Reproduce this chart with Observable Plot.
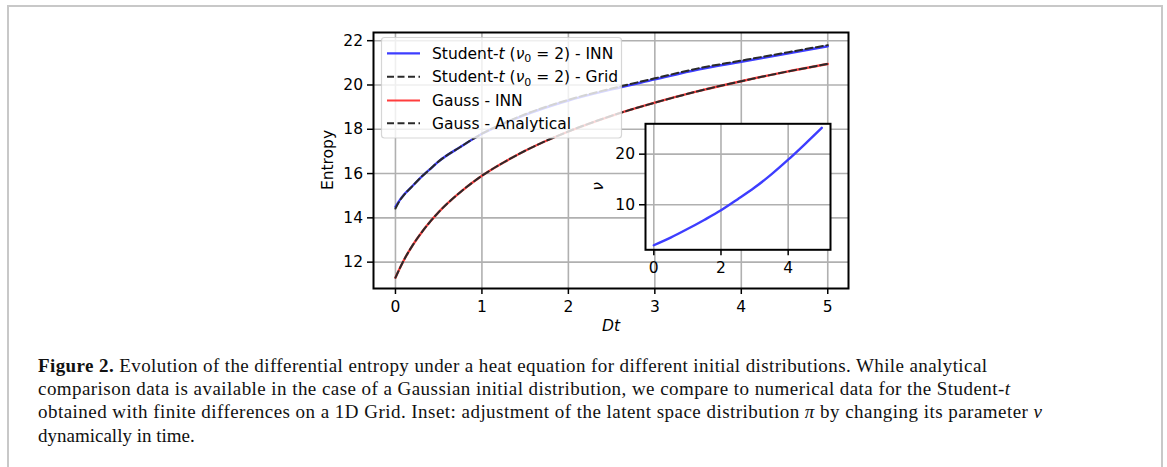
<!DOCTYPE html>
<html>
<head>
<meta charset="utf-8">
<script src="https://cdn.jsdelivr.net/npm/d3@7"></script>
<script src="https://cdn.jsdelivr.net/npm/@observablehq/plot@0.6"></script>
<style>
  html, body { margin: 0; padding: 0; background: #fff; }
  #wrap { position: relative; width: 1167px; height: 467px; overflow: hidden; background: #fff; }
  #border { position: absolute; left: 7px; top: 5px; width: 1152px; height: 480px; border: 2px solid #c8c8c8; border-bottom: none; }
  .abs { position: absolute; left: 0; top: 0; }
</style>
</head>
<body>
<div id="wrap"><div id="border"></div></div>
<script>
// ---- data ----
const tValues = [0, 0.05, 0.1, 0.2, 0.3, 0.4, 0.5, 0.75, 1, 1.25, 1.5, 2, 2.5, 3, 3.5, 4, 4.5, 5];
const studentINN  = [14.5, 14.8, 15.05, 15.45, 15.85, 16.2, 16.55, 17.2, 17.8, 18.25, 18.65, 19.3, 19.8, 20.25, 20.7, 21.05, 21.4, 21.75];
const studentGrid = [14.42, 14.78, 15.04, 15.45, 15.85, 16.2, 16.55, 17.2, 17.8, 18.27, 18.68, 19.33, 19.84, 20.3, 20.75, 21.1, 21.45, 21.8];
const gaussINN    = [11.3, 11.72, 12.11, 12.77, 13.33, 13.82, 14.26, 15.16, 15.9, 16.5, 17.03, 17.9, 18.61, 19.2, 19.72, 20.17, 20.58, 20.95];
const gaussAnalytical = [11.3, 11.72, 12.11, 12.77, 13.33, 13.82, 14.26, 15.16, 15.9, 16.5, 17.03, 17.9, 18.61, 19.2, 19.72, 20.17, 20.58, 20.95];

const nuT      = [0, 0.5, 1, 1.5, 2, 2.5, 3, 3.5, 4, 4.5, 5];
const nuValues = [2, 3.5, 5.2, 7, 8.9, 11.1, 13.4, 16, 18.9, 22, 25.2];

const xTicks = [0, 1, 2, 3, 4, 5];
const yTicks = [12, 14, 16, 18, 20, 22];
const insetXTicks = [0, 2, 4];
const insetYTicks = [10, 20];

const seriesLabels = ["Student-t (ν0 = 2) - INN", "Student-t (ν0 = 2) - Grid", "Gauss - INN", "Gauss - Analytical"];

// ---- styles ----
const FS = 15.5;
const BLUE = "#3d3dff", RED = "#ff3d3d", DASH = "#2a2a2a", GRID = "#b0b0b0";
const rows = (ys) => tValues.map((t, i) => ({t, v: ys[i]}));

const wrap = document.getElementById("wrap");
const tickOpts = {tickSize: 6, strokeWidth: 1.5, label: null, tickFormat: () => ""};
const labX = (ticks) => Plot.text(ticks, {x: d => d, frameAnchor: "bottom", dy: 18.5, lineAnchor: "middle", text: d => String(d), fontSize: FS, fill: "#000"});
const labY = (ticks) => Plot.text(ticks, {y: d => d, frameAnchor: "left", dx: -10.5, textAnchor: "end", text: d => String(d), fontSize: FS, fill: "#000"});

// ---- main chart ----
const main = Plot.plot({
  width: 1167, height: 340,
  marginLeft: 373, marginRight: 319, marginTop: 32, marginBottom: 52,
  style: {fontFamily: "DejaVu Sans", fontSize: FS + "px", color: "#000", background: "transparent", overflow: "visible"},
  x: {domain: [-0.254, 5.24]},
  y: {domain: [10.81, 22.37]},
  marks: [
    Plot.ruleX(xTicks, {stroke: GRID, strokeWidth: 1.6}),
    Plot.ruleY(yTicks, {stroke: GRID, strokeWidth: 1.6}),
    Plot.line(rows(studentINN), {x: "t", y: "v", stroke: BLUE, strokeWidth: 2.4, curve: "monotone-x"}),
    Plot.line(rows(studentGrid), {x: "t", y: "v", stroke: DASH, strokeWidth: 2, strokeDasharray: "7,3.5", curve: "monotone-x"}),
    Plot.line(rows(gaussINN), {x: "t", y: "v", stroke: RED, strokeWidth: 2.4, curve: "monotone-x"}),
    Plot.line(rows(gaussAnalytical), {x: "t", y: "v", stroke: DASH, strokeWidth: 2, strokeDasharray: "7,3.5", curve: "monotone-x"}),
    Plot.frame({stroke: "#000", strokeWidth: 2}),
    Plot.axisX(xTicks, tickOpts),
    Plot.axisY(yTicks, tickOpts),
    labX(xTicks),
    labY(yTicks)
  ]
});
main.classList.add("abs");
wrap.appendChild(main);

// ---- overlay: legend, axis labels, caption ----
const NS = "http://www.w3.org/2000/svg";
const ov = document.createElementNS(NS, "svg");
ov.setAttribute("width", 1167); ov.setAttribute("height", 467);
ov.setAttribute("class", "abs");
ov.style.pointerEvents = "none";
function el(tag, attrs, parent) {
  const e = document.createElementNS(NS, tag);
  for (const k in attrs) e.setAttribute(k, attrs[k]);
  (parent || ov).appendChild(e);
  return e;
}
function tspan(parent, text, attrs = {}) {
  const s = el("tspan", attrs, parent); s.textContent = text; return s;
}

// legend box
el("rect", {x: 381.5, y: 37.5, width: 240, height: 100.5, rx: 3, fill: "#fff", "fill-opacity": 0.8, stroke: "#cccccc", "stroke-opacity": 0.8, "stroke-width": 1.2});
const legendRows = [
  {y: 53.3, color: BLUE, dash: null},
  {y: 76.7, color: DASH, dash: "7,3.5"},
  {y: 100.5, color: RED, dash: null},
  {y: 123.3, color: DASH, dash: "7,3.5"}
];
legendRows.forEach((r, i) => {
  const a = {x1: 387, x2: 420, y1: r.y, y2: r.y, stroke: r.color, "stroke-width": r.dash ? 2 : 2.2};
  if (r.dash) a["stroke-dasharray"] = r.dash;
  el("line", a);
  const tx = el("text", {x: 432, y: r.y + 5.5, "font-family": "DejaVu Sans", "font-size": FS, fill: "#000"});
  const lab = seriesLabels[i];
  if (lab.startsWith("Student")) {
    tspan(tx, "Student-");
    tspan(tx, "t", {"font-style": "italic"});
    tspan(tx, " (");
    tspan(tx, "ν", {"font-style": "italic"});
    tspan(tx, "0", {"font-size": 11, dy: 3.5});
    tspan(tx, " = 2)" + lab.slice(lab.indexOf(")") + 1), {dy: -3.5});
  } else {
    tx.textContent = lab;
  }
});

// axis labels
const yl = el("text", {transform: "translate(333,160) rotate(-90)", "text-anchor": "middle", "font-family": "DejaVu Sans", "font-size": FS, fill: "#000"});
yl.textContent = "Entropy";
const xl = el("text", {x: 611, y: 331, "text-anchor": "middle", "font-family": "DejaVu Sans", "font-size": FS, "font-style": "italic", fill: "#000"});
xl.textContent = "Dt";

// caption
const capFont = {"font-family": "Liberation Serif", "font-size": 19, fill: "#111"};
const c1 = el("text", Object.assign({x: 38, y: 371.5, textLength: 949, lengthAdjust: "spacing"}, capFont));
tspan(c1, "Figure 2.", {"font-weight": "bold"});
tspan(c1, " Evolution of the differential entropy under a heat equation for different initial distributions. While analytical");
const c2 = el("text", Object.assign({x: 38, y: 395, textLength: 972, lengthAdjust: "spacing"}, capFont));
tspan(c2, "comparison data is available in the case of a Gaussian initial distribution, we compare to numerical data for the Student-");
tspan(c2, "t", {"font-style": "italic"});
const c3 = el("text", Object.assign({x: 38, y: 418.3, textLength: 1004, lengthAdjust: "spacing"}, capFont));
tspan(c3, "obtained with finite differences on a 1D Grid. Inset: adjustment of the latent space distribution ");
tspan(c3, "π", {"font-style": "italic"});
tspan(c3, " by changing its parameter ");
tspan(c3, "ν", {"font-style": "italic"});
const c4 = el("text", Object.assign({x: 38, y: 441.7}, capFont));
c4.textContent = "dynamically in time.";
wrap.appendChild(ov);

// ---- inset ----
const inset = Plot.plot({
  width: 250, height: 175,
  marginLeft: 55, marginRight: 10, marginTop: 13.3, marginBottom: 35.7,
  style: {fontFamily: "DejaVu Sans", fontSize: FS + "px", color: "#000", background: "transparent", overflow: "visible"},
  x: {domain: [-0.247, 5.26]},
  y: {domain: [1.1, 26.0]},
  marks: [
    Plot.frame({fill: "#fff"}),
    Plot.ruleX(insetXTicks, {stroke: GRID, strokeWidth: 1.6}),
    Plot.ruleY(insetYTicks, {stroke: GRID, strokeWidth: 1.6}),
    Plot.line(nuT.map((t, i) => ({t, v: nuValues[i]})), {x: "t", y: "v", stroke: BLUE, strokeWidth: 2.4, curve: "monotone-x"}),
    Plot.frame({stroke: "#000", strokeWidth: 2}),
    Plot.axisX(insetXTicks, tickOpts),
    Plot.axisY(insetYTicks, tickOpts),
    labX(insetXTicks),
    labY(insetYTicks),
    Plot.text(["ν"], {frameAnchor: "left", dx: -47, dy: 4, rotate: -90, fontSize: FS, fontStyle: "italic", fill: "#000"})
  ]
});
inset.classList.add("abs");
inset.style.left = "590px";
inset.style.top = "110px";
wrap.appendChild(inset);
</script>
</body>
</html>
